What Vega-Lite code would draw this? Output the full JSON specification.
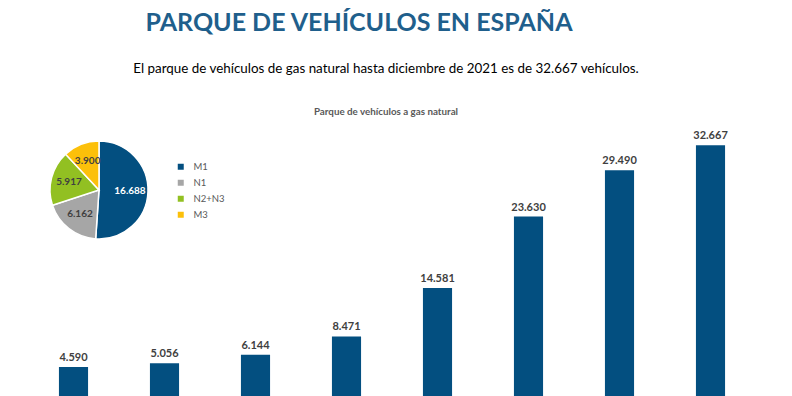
{
  "$schema": "https://vega.github.io/schema/vega-lite/v6.json",
  "padding": {"left": 28, "top": 10, "right": 36, "bottom": 0},
  "background": "white",
  "config": {
    "view": {"stroke": null},
    "font": "Lato",
    "locale": {"number": {"decimal": ",", "thousands": ".", "grouping": [3], "currency": ["", " €"]}}
  },
  "datasets": {
    "parque": [
      {"year": "2014", "vehiculos": 4590},
      {"year": "2015", "vehiculos": 5056},
      {"year": "2016", "vehiculos": 6144},
      {"year": "2017", "vehiculos": 8471},
      {"year": "2018", "vehiculos": 14581},
      {"year": "2019", "vehiculos": 23630},
      {"year": "2020", "vehiculos": 29490},
      {"year": "2021", "vehiculos": 32667}
    ],
    "tipos": [
      {"tipo": "M1", "vehiculos": 16688, "orden": 1},
      {"tipo": "N1", "vehiculos": 6162, "orden": 2},
      {"tipo": "N2+N3", "vehiculos": 5917, "orden": 3},
      {"tipo": "M3", "vehiculos": 3900, "orden": 4}
    ]
  },
  "title": {
    "text": "PARQUE DE VEHÍCULOS EN ESPAÑA",
    "fontSize": 25,
    "fontWeight": "bold",
    "color": "#1f5f8c",
    "anchor": "middle",
    "dx": -33,
    "offset": 26
  },
  "vconcat": [
    {
      "width": 728,
      "height": 275,
      "title": {
        "text": "El parque de vehículos de gas natural hasta diciembre de 2021 es de 32.667 vehículos.",
        "subtitle": "Parque de vehículos a gas natural",
        "fontSize": 13.4,
        "fontWeight": "normal",
        "color": "#000000",
        "subtitleFontSize": 9.8,
        "subtitleFontWeight": "bold",
        "subtitleColor": "#595959",
        "subtitlePadding": 32,
        "offset": 5,
        "anchor": "middle",
        "dx": -6
      },
      "layer": [
        {
          "data": {"name": "parque"},
          "encoding": {
            "x": {"field": "year", "type": "ordinal", "axis": null, "scale": {"paddingInner": 0.68, "paddingOuter": 0.34}},
            "y": {"field": "vehiculos", "type": "quantitative", "axis": null, "scale": {"domain": [800, 35600], "nice": false, "zero": false}}
          },
          "layer": [
            {"mark": {"type": "bar", "color": "#034f80", "clip": true}},
            {
              "mark": {"type": "text", "dy": -4, "baseline": "bottom", "fontWeight": "bold", "fontSize": 11, "color": "#404040"},
              "encoding": {"text": {"field": "vehiculos", "type": "quantitative", "format": ",d"}}
            }
          ]
        },
        {
          "data": {"name": "tipos"},
          "encoding": {
            "theta": {"field": "vehiculos", "type": "quantitative", "stack": true},
            "order": {"field": "orden", "type": "quantitative"},
            "color": {
              "field": "tipo",
              "type": "nominal",
              "scale": {"domain": ["M1", "N1", "N2+N3", "M3"], "range": ["#034f80", "#a6a6a6", "#92c022", "#fcc00a"]},
              "legend": {
                "orient": "none",
                "legendX": 148,
                "legendY": 40,
                "title": null,
                "symbolType": "square",
                "symbolSize": 36,
                "symbolStrokeWidth": 0,
                "labelFontSize": 9.5,
                "labelColor": "#595959",
                "rowPadding": 5,
                "labelOffset": 8
              }
            }
          },
          "layer": [
            {"mark": {"type": "arc", "x": 71, "y": 68, "outerRadius": 49, "stroke": "white", "strokeWidth": 1.5}},
            {
              "mark": {"type": "text", "x": 71, "y": 68, "radius": 31, "fontWeight": "bold", "fontSize": 10},
              "encoding": {
                "text": {"field": "vehiculos", "type": "quantitative", "format": ",d"},
                "color": {"condition": {"test": "datum.tipo === 'M1'", "value": "white"}, "value": "#404040"}
              }
            }
          ]
        }
      ]
    }
  ]
}
